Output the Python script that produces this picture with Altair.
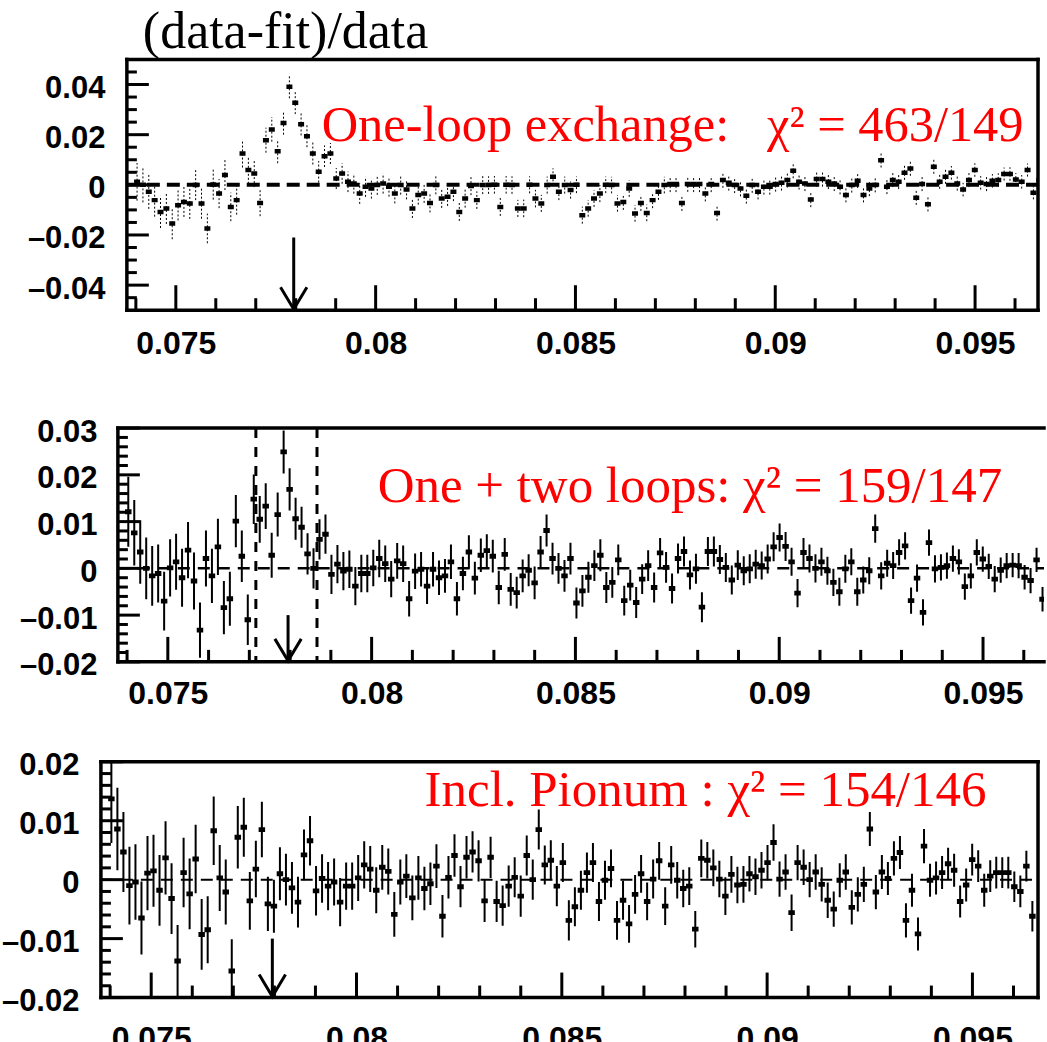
import altair as alt
import pandas as pd

SANS = "Liberation Sans"
SERIF = "Liberation Serif"

# histogram binning (same bins in all three panels)
BIN_START = 0.07403
BIN_WIDTH = 0.0001466

# (data-fit)/data, one-loop exchange fit
Y_ONE_LOOP = [
    0.0012, 0.0000, -0.0028, -0.0061, -0.0108, -0.0094, -0.0154, -0.0081, -0.0068, -0.0074,
    -0.0001, -0.0074, -0.0174, 0.0001, -0.0035, 0.0039, -0.0088, -0.0061, 0.0125, 0.0059,
    0.0045, -0.0072, 0.0178, 0.0221, 0.0134, 0.0247, 0.0391, 0.0327, 0.0242, 0.0194,
    0.0125, 0.0052, 0.0114, 0.0125, 0.0025, 0.0045, 0.0012, 0.0005, -0.0035, -0.0008,
    -0.0015, -0.0001, 0.0005, -0.0008, -0.0035, -0.0001, -0.0019, -0.0094, -0.0041, -0.0035,
    -0.0072, -0.0001, -0.0055, -0.0048, -0.0028, -0.0108, -0.0055, -0.0005, -0.0061, -0.0001,
    -0.0001, 0.0000, -0.0088, 0.0000, -0.0001, -0.0094, -0.0094, 0.0000, -0.0055, -0.0074,
    -0.0001, 0.0032, -0.0028, -0.0001, -0.0021, 0.0000, -0.0121,
    -0.0094, -0.0055, -0.0035, 0.0000, -0.0001, -0.0074, -0.0068, -0.0015, -0.0114, -0.0072,
    -0.0112, -0.0061, -0.0028, -0.0001, 0.0003, 0.0003, -0.0072, 0.0003, 0.0003, 0.0003,
    -0.0035, 0.0003, -0.0112, 0.0019, 0.0008, -0.0001, -0.0015, -0.0044, -0.0001, -0.0028,
    -0.0008, -0.0008, 0.0003, 0.0008, 0.0019, 0.0056, 0.0012, 0.0005, -0.0059, 0.0023,
    0.0023, 0.0012, 0.0005, -0.0008, -0.0041, -0.0001, 0.0016, -0.0041, -0.0015, -0.0001,
    0.0098, -0.0008, 0.0019, 0.0012, 0.0048, 0.0065, -0.0052, 0.0003, -0.0077, 0.0072,
    0.0012, 0.0032, 0.0048, 0.0005, -0.0019, 0.0019, 0.0059, 0.0008, 0.0003, 0.0016,
    0.0019, 0.0043, 0.0043, 0.0021, 0.0012, 0.0059, -0.0032, 0.0019,
]

# one + two loops fit
Y_TWO_LOOPS = [
    0.0121, 0.0076, 0.0035, 0.0000, -0.0016, -0.0011, -0.0070, 0.0001, 0.0014, -0.0020,
    0.0039, -0.0027, -0.0132, 0.0021, -0.0016, 0.0046, -0.0084, -0.0065, 0.0101, 0.0026,
    -0.0110, 0.0148, 0.0105, 0.0133, 0.0028, 0.0115, 0.0249, 0.0169, 0.0106, 0.0088,
    0.0031, 0.0000, 0.0062, 0.0073, -0.0013, 0.0009, -0.0006, -0.0002, -0.0038, -0.0011,
    -0.0011, 0.0001, 0.0021, 0.0010, -0.0023, 0.0016, 0.0010, -0.0065, -0.0006, -0.0002,
    -0.0038, -0.0002, -0.0020, -0.0016, 0.0014, -0.0065, -0.0011, 0.0035, -0.0021, 0.0028,
    0.0038, 0.0026, -0.0041, 0.0030, -0.0045, -0.0052, -0.0016, -0.0004, -0.0031, 0.0035,
    0.0081, 0.0021, 0.0000, -0.0016,
    0.0021, -0.0074, -0.0048, -0.0019, 0.0006, 0.0028, -0.0041, -0.0030, 0.0018, -0.0069,
    -0.0036, -0.0073, -0.0023, 0.0006, -0.0041, 0.0033, 0.0002, -0.0043, 0.0021, 0.0036,
    -0.0014, -0.0001, -0.0083, 0.0036, 0.0036, 0.0019, 0.0002, -0.0025, 0.0007, -0.0005,
    -0.0001, 0.0009, 0.0006, 0.0020, 0.0046, 0.0066, 0.0047, 0.0014, -0.0053, 0.0034,
    0.0021, 0.0000, 0.0014, -0.0005, -0.0030, -0.0050, -0.0001, 0.0014, -0.0050, -0.0025,
    -0.0005, 0.0085, -0.0016, 0.0011, 0.0006, 0.0034, 0.0048, -0.0069, -0.0021, -0.0094,
    0.0055, -0.0001, 0.0002, 0.0006, 0.0021, 0.0014, -0.0039, -0.0016, 0.0034, 0.0020,
    0.0004, -0.0023, -0.0004, 0.0006, 0.0007, 0.0006, -0.0019, -0.0026, 0.0018, -0.0066,
]

# fit including pionium
Y_PIONUM = [
    0.0137, 0.0086, 0.0047, -0.0010, -0.0004, -0.0065, 0.0011, 0.0015, -0.0018, 0.0037,
    -0.0032, -0.0138, 0.0012, -0.0024, 0.0035, -0.0093, -0.0085, 0.0083, 0.0003, -0.0021,
    -0.0155, 0.0072, 0.0089, -0.0036, 0.0018, 0.0085, -0.0041, -0.0045, 0.0010, 0.0000,
    -0.0014, -0.0038, 0.0042, 0.0066, -0.0019, 0.0002, -0.0011, -0.0004, -0.0038, -0.0011,
    -0.0011, 0.0003, 0.0025, 0.0018, -0.0018, 0.0021, 0.0014, -0.0059, -0.0004, 0.0006,
    -0.0031, 0.0003, -0.0015, -0.0007, 0.0023, -0.0062, 0.0004, 0.0041, -0.0012, 0.0038,
    0.0047, 0.0032, -0.0036, 0.0038, -0.0037, -0.0044, -0.0011, 0.0004, -0.0028, 0.0041,
    0.0000, 0.0085, 0.0025, 0.0033, -0.0011,
    0.0029, -0.0069, -0.0046, -0.0018, 0.0012, 0.0029, -0.0037, -0.0001, 0.0019, -0.0069,
    -0.0035, -0.0075, -0.0025, 0.0010, -0.0037, 0.0001, 0.0032, -0.0045, 0.0025, -0.0001,
    -0.0015, -0.0011, -0.0084, 0.0036, 0.0033, 0.0020, 0.0001, -0.0028, 0.0009, -0.0009,
    -0.0008, 0.0010, 0.0005, 0.0016, 0.0029, 0.0063, 0.0001, 0.0013, -0.0056, 0.0029,
    0.0021, 0.0000, 0.0013, -0.0008, -0.0035, -0.0050, -0.0001, 0.0013, -0.0047, -0.0025,
    -0.0008, 0.0086, -0.0021, 0.0013, 0.0002, 0.0036, 0.0046, -0.0069, -0.0018, -0.0092,
    0.0057, -0.0001, 0.0003, 0.0012, 0.0027, 0.0016, -0.0037, -0.0009, 0.0034, 0.0023,
    -0.0018, 0.0006, 0.0012, 0.0012, 0.0012, -0.0012, -0.0020, 0.0023, -0.0062,
]

# half-length of the error bars (same data in all panels)
ERR = [
    0.0075, 0.0070, 0.0068, 0.0066, 0.0064, 0.0062, 0.0063, 0.0061, 0.0060, 0.0062,
    0.0060, 0.0061, 0.0059, 0.0060, 0.0058, 0.0060, 0.0057, 0.0058, 0.0056, 0.0055,
    0.0054, 0.0053, 0.0050, 0.0049, 0.0048, 0.0047, 0.0046, 0.0045, 0.0045, 0.0044,
    0.0044, 0.0043, 0.0043, 0.0042, 0.0042, 0.0041, 0.0041, 0.0040, 0.0041, 0.0040,
    0.0040, 0.0039, 0.0040, 0.0039, 0.0039, 0.0038, 0.0039, 0.0038, 0.0038, 0.0037,
    0.0038, 0.0037, 0.0037, 0.0036, 0.0037, 0.0036, 0.0036, 0.0036, 0.0035, 0.0036,
    0.0035, 0.0035, 0.0036, 0.0035, 0.0035, 0.0034, 0.0035, 0.0034, 0.0035, 0.0034,
    0.0034, 0.0034, 0.0033, 0.0034, 0.0034, 0.0033, 0.0034, 0.0033, 0.0033, 0.0034,
    0.0033, 0.0033, 0.0033, 0.0032, 0.0033, 0.0033, 0.0032, 0.0033, 0.0032, 0.0032,
    0.0033, 0.0032, 0.0032, 0.0032, 0.0031, 0.0032, 0.0032, 0.0031, 0.0032, 0.0031,
    0.0031, 0.0031, 0.0032, 0.0031, 0.0031, 0.0031, 0.0030, 0.0031, 0.0031, 0.0030,
    0.0031, 0.0030, 0.0030, 0.0031, 0.0030, 0.0030, 0.0030, 0.0030, 0.0029, 0.0030,
    0.0030, 0.0029, 0.0030, 0.0029, 0.0029, 0.0030, 0.0029, 0.0029, 0.0029, 0.0028,
    0.0029, 0.0028, 0.0029, 0.0028, 0.0028, 0.0029, 0.0028, 0.0028, 0.0028, 0.0027,
    0.0028, 0.0027, 0.0028, 0.0027, 0.0027, 0.0028, 0.0027, 0.0027, 0.0026, 0.0027,
    0.0026, 0.0027, 0.0026, 0.0026, 0.0026, 0.0025,
]

X_MAJOR = [0.075, 0.08, 0.085, 0.09, 0.095]
X_MINOR = [0.074, 0.076, 0.077, 0.078, 0.079, 0.081, 0.082, 0.083, 0.084,
           0.086, 0.087, 0.088, 0.089, 0.091, 0.092, 0.093, 0.094, 0.096]
Y1_MAJOR = [-0.04, -0.02, 0.0, 0.02, 0.04]
Y1_MINOR = [-0.045, -0.035, -0.03, -0.025, -0.015, -0.01, -0.005,
            0.005, 0.01, 0.015, 0.025, 0.03, 0.035, 0.045]
Y2_MAJOR = [-0.02, -0.01, 0.0, 0.01, 0.02, 0.03]
Y2_MINOR = [-0.018, -0.016, -0.014, -0.012, -0.008, -0.006, -0.004, -0.002,
            0.002, 0.004, 0.006, 0.008, 0.012, 0.014, 0.016, 0.018,
            0.022, 0.024, 0.026, 0.028]
Y3_MAJOR = [-0.02, -0.01, 0.0, 0.01, 0.02]
Y3_MINOR = [-0.018, -0.016, -0.014, -0.012, -0.008, -0.006, -0.004, -0.002,
            0.002, 0.004, 0.006, 0.008, 0.012, 0.014, 0.016, 0.018]

THRESHOLD_X = 0.07795
ARROW_TOPS = [-0.021, -0.010, -0.010]
WINDOW_EDGES = [0.07716, 0.07866]

TITLE = "(data-fit)/data"
NB = "\u00a0"
LABELS = [
    "One-loop exchange:" + NB * 3 + "\u03c7\u00b2 = 463/149",
    "One + two loops: \u03c7\u00b2 = 159/147",
    "Incl. Pionum : \u03c7\u00b2 = 154/146",
]
LABEL_SIZES = [50.5, 51, 51]


def one_row():
    return pd.DataFrame({"a": [0]})


def panel(yvals, w, h, xdom, ydom, ymaj, ymin, label, lsize, lx, ly, arrow_top,
          xpad, ypad, zero_w, zero_dash, err_w, err_dash, msize, box,
          right=True, edges=None, title=None):
    n = len(yvals)
    df = pd.DataFrame({
        "x": [BIN_START + i * BIN_WIDTH for i in range(n)],
        "y": yvals,
        "lo": [yvals[i] - ERR[i] for i in range(n)],
        "hi": [yvals[i] + ERR[i] for i in range(n)],
    })
    xsc = alt.Scale(domain=xdom, nice=False, zero=False)
    ysc = alt.Scale(domain=ydom, nice=False, zero=False)
    common = dict(title=None, ticks=False, tickSize=0, domain=False, grid=False,
                  labelFont=SANS, labelFontWeight="bold",
                  labelColor="black", labelFlush=False, labelOverlap=False)
    xax = alt.Axis(values=X_MAJOR, format=".3~f", labelPadding=xpad, labelFontSize=32, **common)
    yax = alt.Axis(values=ymaj, format=".2~f", labelPadding=ypad, labelOffset=4,
                   labelFontSize=31, labelExpr="replace(datum.label, '\u2212', '\u2013')",
                   **common)

    def X(f):
        return alt.X(f, type="quantitative", scale=xsc, axis=xax)

    def Y(f):
        return alt.Y(f, type="quantitative", scale=ysc, axis=yax)

    layers = []
    # invisible layout box: fixes where this panel sits in the column
    layers.append(alt.Chart(one_row()).mark_rect(opacity=0).encode(
        x=alt.value(-box[0]), x2=alt.value(-box[0] + 1),
        y=alt.value(-box[1]), y2=alt.value(box[2])))
    layers.append(alt.Chart(pd.DataFrame({"z": [0.0]})).mark_rule(
        color="black", strokeWidth=zero_w, strokeDash=zero_dash
    ).encode(y=Y("z"), x=alt.value(0), x2=alt.value(w)))
    if edges is not None:
        layers.append(alt.Chart(pd.DataFrame({"e": edges})).mark_rule(
            color="black", strokeWidth=3, strokeDash=[10, 9]
        ).encode(x=X("e"), y=alt.value(0), y2=alt.value(h)))
    err_kw = dict(color="black", strokeWidth=err_w, clip=True)
    if err_dash is not None:
        err_kw["strokeDash"] = err_dash
    layers.append(alt.Chart(df).mark_rule(**err_kw).encode(
        x=X("x"), y=Y("lo"), y2=alt.Y2("hi")))
    layers.append(alt.Chart(df).mark_point(
        shape="M-1,-0.75L1,-0.75L1,0.75L-1,0.75Z", filled=True, size=msize,
        color="black", opacity=1, clip=True
    ).encode(x=X("x"), y=Y("y")))
    # inward ticks (ROOT style)
    layers.append(alt.Chart(pd.DataFrame({"t": X_MAJOR})).mark_rule(
        color="black", strokeWidth=3).encode(x=X("t"), y=alt.value(h), y2=alt.value(h - 25)))
    layers.append(alt.Chart(pd.DataFrame({"t": X_MINOR})).mark_rule(
        color="black", strokeWidth=3).encode(x=X("t"), y=alt.value(h), y2=alt.value(h - 12)))
    layers.append(alt.Chart(pd.DataFrame({"t": ymaj})).mark_rule(
        color="black", strokeWidth=3).encode(y=Y("t"), x=alt.value(0), x2=alt.value(22)))
    layers.append(alt.Chart(pd.DataFrame({"t": ymin})).mark_rule(
        color="black", strokeWidth=3).encode(y=Y("t"), x=alt.value(0), x2=alt.value(10)))
    # arrow at threshold
    adf = pd.DataFrame({"ax": [THRESHOLD_X], "at": [arrow_top]})
    layers.append(alt.Chart(adf).mark_rule(color="black", strokeWidth=3).encode(
        x=X("ax"), y=Y("at"), y2=alt.value(h)))
    layers.append(alt.Chart(adf).mark_point(
        shape="M-0.6,-1L0,0L0.6,-1", filled=False, size=1936, color="black",
        strokeWidth=3, opacity=1
    ).encode(x=X("ax"), y=alt.value(h - 1)))
    # frame
    bw = 3.5
    layers.append(alt.Chart(one_row()).mark_rule(color="black", strokeWidth=bw, strokeCap="square").encode(
        x=alt.value(0), x2=alt.value(w), y=alt.value(0)))
    layers.append(alt.Chart(one_row()).mark_rule(color="black", strokeWidth=bw, strokeCap="square").encode(
        x=alt.value(0), x2=alt.value(w), y=alt.value(h)))
    layers.append(alt.Chart(one_row()).mark_rule(color="black", strokeWidth=bw, strokeCap="square").encode(
        x=alt.value(0), y=alt.value(0), y2=alt.value(h)))
    if right:
        layers.append(alt.Chart(one_row()).mark_rule(color="black", strokeWidth=bw, strokeCap="square").encode(
            x=alt.value(w), y=alt.value(0), y2=alt.value(h)))
    # annotation
    layers.append(alt.Chart(pd.DataFrame({"t": [label]})).mark_text(
        font=SERIF, fontSize=lsize, color="#ff0000", align="left", baseline="alphabetic"
    ).encode(text="t:N", x=alt.value(lx), y=alt.value(ly)))
    if title is not None:
        layers.append(alt.Chart(pd.DataFrame({"t": [title]})).mark_text(
            font=SERIF, fontSize=52, color="black", align="left", baseline="top"
        ).encode(text="t:N", x=alt.value(16), y=alt.value(-52)))
    return alt.layer(*layers).properties(width=w, height=h)


p1 = panel(Y_ONE_LOOP, 912, 251, [0.073775, 0.096575], [-0.05, 0.05], Y1_MAJOR, Y1_MINOR,
           LABELS[0], LABEL_SIZES[0], 195, 82, ARROW_TOPS[0], 18, 22, 4, [13, 7], 1, [2, 2], 36,
           box=(101, 62, 317), title=TITLE)
p2 = panel(Y_TWO_LOOPS, 927, 234, [0.073775, 0.096496], [-0.02, 0.03], Y2_MAJOR, Y2_MINOR,
           LABELS[1], LABEL_SIZES[1], 260, 74, ARROW_TOPS[1], 17, 21, 2.5, [12, 8], 2, None, 42,
           box=(101, 50, 290), right=False, edges=WINDOW_EDGES)
p3 = panel(Y_PIONUM, 938, 236, [0.073775, 0.096597], [-0.02, 0.02], Y3_MAJOR, Y3_MINOR,
           LABELS[2], LABEL_SIZES[2], 324, 44, ARROW_TOPS[2], 26, 22, 2, [12, 8], 2, None, 42,
           box=(100, 42, 236))


def spacer(w):
    return alt.Chart(one_row()).mark_rect(opacity=0).encode(
        x=alt.value(0), x2=alt.value(w), y=alt.value(0), y2=alt.value(1)
    ).properties(width=w, height=1)


rows = [
    alt.hconcat(spacer(26), p1, spacing=0),
    alt.hconcat(spacer(17), p2, spacing=0),
    alt.hconcat(spacer(1), p3, spacing=0),
]
chart = alt.vconcat(*rows, spacing=0).properties(
    padding={"left": -3, "top": -4, "right": 0, "bottom": 0}, background="white"
).configure_view(stroke="transparent")

chart.save("out.html", embed_options={"renderer": "svg", "actions": False})
